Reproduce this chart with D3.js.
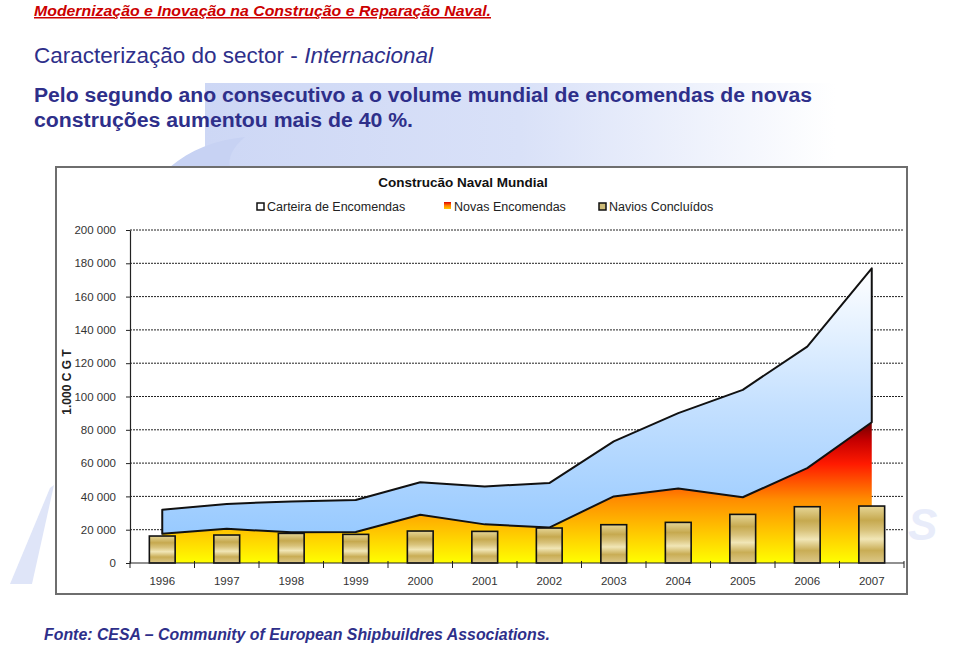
<!DOCTYPE html>
<head>
<meta charset="utf-8">
<style>
  body { margin: 0; background: #fff; }
  text { font-family: "Liberation Sans", Arial, sans-serif; }
</style>
</head>
<body>
<svg width="959" height="647"></svg>
<script src="https://cdn.jsdelivr.net/npm/d3@7"></script>
<script>

// data (1.000 CGT)
var years = ["1996", "1997", "1998", "1999", "2000", "2001", "2002", "2003", "2004", "2005", "2006", "2007"];
var carteira = [32000, 35500, 37000, 37800, 48500, 46000, 48000, 73000, 90000, 104000, 130000, 177000];
var novas = [17500, 20500, 18500, 18600, 29000, 23200, 21300, 40000, 44800, 39500, 57000, 84500];
var concluidos = [16200, 16800, 17800, 17200, 19200, 19000, 21000, 23000, 24400, 29200, 33800, 34200];
var yTicks = [0, 20000, 40000, 60000, 80000, 100000, 120000, 140000, 160000, 180000, 200000];
var legendLabels = ["Carteira de Encomendas", "Novas Encomendas", "Navios Concluídos"];

var data = years.map(function(y, i) {
  return {year: y, carteira: carteira[i], novas: novas[i], concluidos: concluidos[i]};
});

var svg = d3.select("svg");
var defs = svg.append("defs");

// gradients
function vGrad(id, x1, y1, x2, y2, stops, units) {
  var g = defs.append("linearGradient").attr("id", id)
      .attr("x1", x1).attr("y1", y1).attr("x2", x2).attr("y2", y2);
  if (units) g.attr("gradientUnits", units);
  stops.forEach(function(s) {
    g.append("stop").attr("offset", s[0]).attr("stop-color", s[1]);
  });
}

var x = d3.scaleBand()
    .domain(years)
    .range([130, 904])
    .paddingInner(0.6)
    .paddingOuter(0.3);

var y = d3.scaleLinear()
    .domain([0, 200000])
    .range([563, 230]);

vGrad("gNovas", 0, y(0), 0, y(85000), [
  [0, "#ffff00"], [0.2, "#ffcc00"], [0.45, "#ff8c00"], [0.7, "#ff1a00"], [0.86, "#c80000"], [1, "#6a0000"]
], "userSpaceOnUse");
vGrad("gCarteira", 0, 545, 0, 268, [
  [0, "#94c8ff"], [0.5, "#c4e0ff"], [1, "#ffffff"]
], "userSpaceOnUse");
vGrad("gBar", 0, 0, 0, 1, [
  [0, "#e6d697"], [0.25, "#c6a94f"], [0.42, "#d8c27a"], [0.58, "#f1e6b6"], [0.78, "#c9ad55"], [1, "#ddc98a"]
]);
vGrad("gLegNovas", 0, 0, 0, 1, [
  [0, "#e00000"], [0.5, "#ff8000"], [1, "#ffcc00"]
]);
vGrad("gWater", 0, 0, 1, 0, [
  [0, "#cdd7f5"], [0.45, "#d9e1f8"], [0.9, "#ffffff"]
]);

// background watermark
var wm = svg.append("g");
wm.append("rect")
    .attr("x", 205).attr("y", 83).attr("width", 700).attr("height", 84)
    .attr("fill", "url(#gWater)");
wm.append("path")
    .attr("d", "M170,167 C190,150 215,140 245,137 C232,148 228,158 230,167 Z")
    .attr("fill", "#c7d2f3");
wm.append("path")
    .attr("d", "M50,488 L54,485 L32,584 L10,584 Z")
    .attr("fill", "#dfe5f8");
wm.append("text")
    .attr("x", 908).attr("y", 540)
    .attr("font-size", 44).attr("font-weight", "bold").attr("font-style", "italic")
    .attr("fill", "#e8ecfa")
    .text("S");

// header texts
svg.append("text")
    .attr("x", 34).attr("y", 16)
    .attr("font-size", 15).attr("font-weight", "bold").attr("font-style", "italic")
    .attr("text-decoration", "underline")
    .attr("fill", "#cc0000")
    .attr("textLength", 457).attr("lengthAdjust", "spacingAndGlyphs")
    .text("Modernização e Inovação na Construção e Reparação Naval.");

var sub = svg.append("text")
    .attr("x", 34).attr("y", 63)
    .attr("font-size", 22.5)
    .attr("fill", "#2e2f8a");
sub.append("tspan").text("Caracterização do sector - ");
sub.append("tspan").attr("font-style", "italic").text("Internacional");

svg.append("text")
    .attr("x", 34).attr("y", 102)
    .attr("font-size", 19.5).attr("font-weight", "bold")
    .attr("fill", "#2e2f8a")
    .attr("textLength", 778).attr("lengthAdjust", "spacingAndGlyphs")
    .text("Pelo segundo ano consecutivo a o volume mundial de encomendas de novas");
svg.append("text")
    .attr("x", 34).attr("y", 127)
    .attr("font-size", 19.5).attr("font-weight", "bold")
    .attr("fill", "#2e2f8a")
    .attr("textLength", 379).attr("lengthAdjust", "spacingAndGlyphs")
    .text("construções aumentou mais de 40 %.");

svg.append("text")
    .attr("x", 44).attr("y", 640)
    .attr("font-size", 16).attr("font-weight", "bold").attr("font-style", "italic")
    .attr("fill", "#2e2f8a")
    .attr("textLength", 506).attr("lengthAdjust", "spacingAndGlyphs")
    .text("Fonte: CESA – Community of European Shipbuildres Associations.");

// chart frame
svg.append("rect")
    .attr("x", 56).attr("y", 167).attr("width", 851).attr("height", 427)
    .attr("fill", "#fff")
    .attr("stroke", "#6e6e6e")
    .attr("stroke-width", 2);

svg.append("text")
    .attr("x", 463).attr("y", 187)
    .attr("text-anchor", "middle")
    .attr("font-size", 13.5).attr("font-weight", "bold")
    .attr("fill", "#111")
    .text("Construcão Naval Mundial");

// legend
var legX = [257, 444, 599];
var leg = svg.append("g");
leg.append("rect").attr("x", legX[0]).attr("y", 203).attr("width", 7).attr("height", 7)
    .attr("fill", "#fff").attr("stroke", "#111").attr("stroke-width", 1.5);
leg.append("rect").attr("x", legX[1]).attr("y", 202).attr("width", 7).attr("height", 7)
    .attr("fill", "url(#gLegNovas)");
leg.append("rect").attr("x", legX[2]).attr("y", 203).attr("width", 7).attr("height", 7)
    .attr("fill", "#cdbb78").attr("stroke", "#111").attr("stroke-width", 1.5);
leg.selectAll(".lt")
    .data(legendLabels)
  .enter().append("text")
    .attr("x", function(d, i) { return legX[i] + 10; })
    .attr("y", 211)
    .attr("font-size", 12.5)
    .attr("fill", "#222")
    .text(function(d) { return d; });

// gridlines
svg.append("g")
  .selectAll("line")
    .data(yTicks.slice(1))
  .enter().append("line")
    .attr("x1", 130).attr("x2", 903)
    .attr("y1", function(d) { return y(d); })
    .attr("y2", function(d) { return y(d); })
    .attr("stroke", "#222")
    .attr("stroke-width", 1)
    .attr("stroke-dasharray", "2,1");

// areas
var cx = function(d) { return x(d.year) + x.bandwidth() / 2; };

var areaNovas = d3.area()
    .x(cx)
    .y0(y(0))
    .y1(function(d) { return y(d.novas); });

var areaCarteira = d3.area()
    .x(cx)
    .y0(function(d) { return y(d.novas); })
    .y1(function(d) { return y(d.carteira); });

svg.append("path")
    .datum(data)
    .attr("fill", "url(#gNovas)")
    .attr("d", areaNovas);

svg.append("path")
    .datum(data)
    .attr("fill", "url(#gCarteira)")
    .attr("stroke", "#111")
    .attr("stroke-width", 2)
    .attr("stroke-linejoin", "round")
    .attr("d", areaCarteira);

// bars
svg.append("g")
  .selectAll("rect")
    .data(data)
  .enter().append("rect")
    .attr("x", function(d) { return x(d.year); })
    .attr("y", function(d) { return y(d.concluidos); })
    .attr("width", x.bandwidth())
    .attr("height", function(d) { return y(0) - y(d.concluidos); })
    .attr("fill", "url(#gBar)")
    .attr("stroke", "#111")
    .attr("stroke-width", 1.6);

// y axis
var fmt = d3.format(",");
var yAxis = svg.append("g")
    .attr("transform", "translate(130,0)")
    .call(d3.axisLeft(y)
      .tickValues(yTicks)
      .tickSize(4)
      .tickSizeOuter(0)
      .tickPadding(10)
      .tickFormat(function(d) { return fmt(d).replace(/,/g, " "); }));
yAxis.select(".domain").attr("stroke", "#222").attr("stroke-width", 1.2);
yAxis.selectAll(".tick line").attr("stroke", "#222");
yAxis.selectAll("text")
    .attr("font-family", "Liberation Sans, Arial, sans-serif")
    .attr("font-size", 11.5)
    .attr("fill", "#333");

svg.append("text")
    .attr("transform", "translate(71,382) rotate(-90)")
    .attr("text-anchor", "middle")
    .attr("font-size", 12).attr("font-weight", "bold")
    .attr("fill", "#222")
    .text("1.000 C G T");

// x axis: ticks at band boundaries, labels at band centres
var xg = svg.append("g");
xg.append("line")
    .attr("x1", 130).attr("x2", 904)
    .attr("y1", y(0)).attr("y2", y(0))
    .attr("stroke", "#222").attr("stroke-width", 1.2);
xg.selectAll(".xt")
    .data(d3.range(years.length + 1))
  .enter().append("line")
    .attr("x1", function(i) { return x.range()[0] + i * x.step(); })
    .attr("x2", function(i) { return x.range()[0] + i * x.step(); })
    .attr("y1", y(0) - 2).attr("y2", y(0) + 5)
    .attr("stroke", "#222");
xg.selectAll(".xl")
    .data(years)
  .enter().append("text")
    .attr("x", function(d) { return x(d) + x.bandwidth() / 2; })
    .attr("y", 585)
    .attr("text-anchor", "middle")
    .attr("font-size", 11.5)
    .attr("fill", "#333")
    .text(function(d) { return d; });

</script>
</body>
